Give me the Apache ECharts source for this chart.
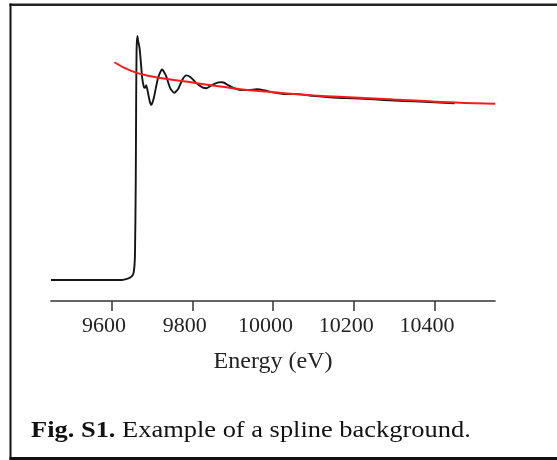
<!DOCTYPE html>
<html>
<head>
<meta charset="utf-8">
<script src="https://cdn.jsdelivr.net/npm/echarts@6/dist/echarts.min.js"></script>
<style>
html,body{margin:0;padding:0;background:#fff;}
#chart{width:557px;height:460px;}
</style>
</head>
<body>
<div id="chart"></div>
<script>
// Energy (eV) ticks
var tickValues = [9600, 9800, 10000, 10200, 10400];

// Measured absorption spectrum (normalized units)
var spectrumEnergy = [9450, 9500, 9550, 9600, 9625, 9640, 9650, 9655, 9658, 9660, 9661, 9662, 9664, 9666, 9668, 9670, 9673, 9676, 9680, 9683, 9686, 9690, 9695, 9699, 9705, 9715, 9725, 9735, 9745, 9755, 9765, 9775, 9785, 9795, 9810, 9825, 9835, 9850, 9865, 9875, 9890, 9905, 9920, 9940, 9960, 9980, 10000, 10030, 10060, 10100, 10150, 10200, 10250, 10300, 10350, 10400, 10450];
var spectrumValue = [0.0, 0.0, 0.0, 0.0, 0.0, 0.008, 0.02, 0.045, 0.14, 0.57, 1.03, 1.31, 1.39, 1.36, 1.34, 1.31, 1.23, 1.15, 1.10, 1.095, 1.11, 1.07, 1.015, 0.998, 1.04, 1.15, 1.20, 1.163, 1.095, 1.066, 1.089, 1.14, 1.166, 1.157, 1.123, 1.098, 1.093, 1.112, 1.126, 1.127, 1.109, 1.092, 1.083, 1.083, 1.087, 1.080, 1.069, 1.059, 1.059, 1.049, 1.040, 1.035, 1.029, 1.022, 1.018, 1.013, 1.007];

// Spline background
var splineEnergy = [9607, 9650, 9700, 9750, 9800, 9850, 9900, 9950, 10000, 10050, 10100, 10150, 10200, 10250, 10300, 10350, 10400, 10450, 10500, 10550];
var splineValue = [1.241, 1.19, 1.16, 1.141, 1.125, 1.108, 1.093, 1.080, 1.070, 1.060, 1.052, 1.045, 1.040, 1.034, 1.028, 1.023, 1.016, 1.011, 1.007, 1.004];

var captionBold = 'Fig. S1.';
var captionText = ' Example of a spline background.';
var xAxisTitle = 'Energy (eV)';

function pairs(xs, ys) {
  var out = [];
  for (var i = 0; i < xs.length; i++) out.push([xs[i], ys[i]]);
  return out;
}

var serif = 'Liberation Serif';
var chart = echarts.init(document.getElementById('chart'), null, {renderer: 'canvas'});
chart.setOption({
  animation: false,
  backgroundColor: '#ffffff',
  grid: {left: 51, right: 62, top: 8, bottom: 159, containLabel: false},
  xAxis: {
    type: 'value',
    min: 9450,
    max: 10550,
    name: xAxisTitle,
    nameLocation: 'middle',
    nameGap: 49,
    nameTextStyle: {fontFamily: serif, fontSize: 24, color: '#222'},
    axisLine: {show: true, onZero: false, lineStyle: {color: '#333', width: 1.7}},
    axisTick: {show: true, inside: false, length: 10, customValues: tickValues, lineStyle: {color: '#333', width: 1.5}},
    axisLabel: {
      show: true, margin: 14, customValues: tickValues,
      fontFamily: serif, fontSize: 22, color: '#222',
      padding: [0, 15, 0, 0],
      formatter: function (v) { return String(v); }
    },
    splitLine: {show: false}
  },
  yAxis: {
    type: 'value',
    min: -0.12,
    max: 1.55,
    show: false
  },
  series: [
    {
      type: 'line',
      data: pairs(spectrumEnergy, spectrumValue),
      showSymbol: false,
      smooth: 0.2,
      lineStyle: {color: '#151515', width: 1.9},
      z: 2
    },
    {
      type: 'line',
      data: pairs(splineEnergy, splineValue),
      showSymbol: false,
      smooth: true,
      lineStyle: {color: '#ff1a1a', width: 2},
      z: 3
    }
  ],
  graphic: [
    {type: 'rect', shape: {x: 9.5, y: 3.5, width: 560, height: 2.5}, style: {fill: '#222'}, silent: true},
    {type: 'rect', shape: {x: 9.5, y: 3.5, width: 2, height: 460}, style: {fill: '#111'}, silent: true},
    {type: 'rect', shape: {x: 9.5, y: 457, width: 560, height: 4}, style: {fill: '#111'}, silent: true},
    {
      type: 'text',
      x: 31,
      y: 431,
      scaleX: 1.17,
      silent: true,
      style: {
        text: '{b|' + captionBold + '}{r|' + captionText + '}',
        verticalAlign: 'middle',
        align: 'left',
        fill: '#111',
        fontFamily: serif,
        fontSize: 22.6,
        rich: {
          b: {fontFamily: serif, fontSize: 22.6, fontWeight: 'bold', fill: '#111'},
          r: {fontFamily: serif, fontSize: 22.6, fontWeight: 'normal', fill: '#111'}
        }
      }
    }
  ]
});
</script>
</body>
</html>
